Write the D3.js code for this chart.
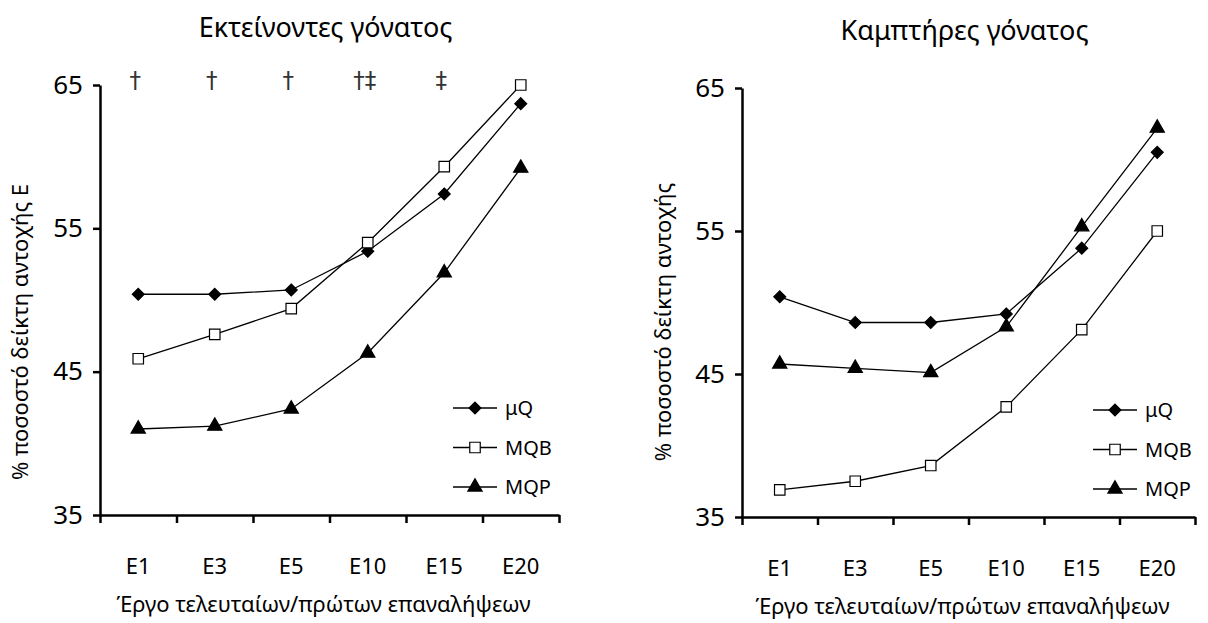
<!DOCTYPE html>
<html>
<head>
<meta charset="utf-8">
<script src="https://cdn.jsdelivr.net/npm/d3@7"></script>
<style>
  body { margin: 0; background: #fff; }
  svg { font-family: "Noto Sans", "Open Sans", sans-serif; }
</style>
</head>
<body>
<svg id="svg" width="1208" height="623"></svg>
<script>
const categories = ["E1", "E3", "E5", "E10", "E15", "E20"];
const yTicks = [35, 45, 55, 65];
const seriesNames = ["μQ", "MQB", "MQP"];

// Εκτείνοντες (left)
const extMuQ = [50.4, 50.4, 50.7, 53.4, 57.4, 63.7];
const extMQB = [45.9, 47.6, 49.4, 54.0, 59.3, 65.0];
const extMQP = [41.0, 41.2, 42.4, 46.3, 51.9, 59.2];
const extMarks = ["†", "†", "†", "†‡", "‡", ""];

// Καμπτήρες (right)
const flxMuQ = [50.4, 48.6, 48.6, 49.2, 53.8, 60.5];
const flxMQB = [36.9, 37.5, 38.6, 42.7, 48.1, 55.0];
const flxMQP = [45.7, 45.4, 45.1, 48.3, 55.3, 62.2];

const svg = d3.select("#svg");

const symbols = {
  "μQ": { type: d3.symbolDiamond2, size: 90, fill: "#000" },
  "MQB": { type: d3.symbolSquare, size: 110, fill: "#fff" },
  "MQP": { type: d3.symbolTriangle, size: 88, fill: "#000" }
};

function drawPanel(p) {
  const g = svg.append("g").attr("transform", `translate(${p.left},${p.top})`);
  const w = p.width, h = p.height;

  const x = d3.scaleBand().domain(categories).range([0, w]);
  const xt = d3.scaleLinear().domain([0, categories.length]).range([0, w]);
  const y = d3.scaleLinear().domain([35, 65]).range([h, 0]);

  // y axis
  const ya = g.append("g").call(d3.axisLeft(y).tickValues(yTicks).tickSize(7).tickSizeOuter(0));
  ya.select(".domain").attr("stroke-width", 2.5);
  ya.selectAll(".tick line").attr("stroke-width", 2.5);
  ya.selectAll(".tick text").attr("x", -17).style("font-size", "26px").style("font-family", "Noto Sans");

  // x axis ticks at band edges
  const xa = g.append("g").attr("transform", `translate(0,${h})`)
    .call(d3.axisBottom(xt).tickValues(d3.range(categories.length + 1)).tickSize(8).tickSizeOuter(0).tickFormat(""));
  xa.select(".domain").attr("stroke-width", 2.5);
  xa.selectAll(".tick line").attr("stroke-width", 2.5);

  // category labels
  const xl = g.append("g").attr("transform", `translate(0,${h})`)
    .call(d3.axisBottom(x).tickSize(0).tickPadding(43));
  xl.select(".domain").remove();
  xl.selectAll(".tick text").style("font-size", "22px").style("font-family", "Noto Sans");

  // series
  const line = d3.line().x((d, i) => x(categories[i]) + x.bandwidth() / 2).y((d) => y(d));
  p.series.forEach((vals, k) => {
    const name = seriesNames[k];
    g.append("path").datum(vals).attr("d", line)
      .attr("fill", "none").attr("stroke", "#000").attr("stroke-width", 1.3);
    g.selectAll(null).data(vals).enter().append("path")
      .attr("transform", (d, i) => `translate(${x(categories[i]) + x.bandwidth() / 2},${y(d)})`)
      .attr("d", d3.symbol().type(symbols[name].type).size(symbols[name].size))
      .attr("fill", symbols[name].fill).attr("stroke", "#000").attr("stroke-width", 1.2);
  });

  // significance marks
  if (p.marks) {
    g.selectAll("text.mark").data(p.marks).enter().append("text")
      .attr("class", "mark")
      .attr("x", (d, i) => x(categories[i]) + x.bandwidth() / 2 - 3)
      .attr("y", 3)
      .attr("text-anchor", "middle")
      .attr("fill", "#333")
      .style("font-size", "23px")
      .style("font-family", "DejaVu Sans")
      .text((d) => d);
  }

  // legend
  const lg = g.append("g").attr("transform", `translate(${p.legendX},${p.legendY})`);
  seriesNames.forEach((name, k) => {
    const row = lg.append("g").attr("transform", `translate(0,${k * 39.5})`);
    row.append("line").attr("x1", 0).attr("x2", 44).attr("stroke", "#000").attr("stroke-width", 1.3);
    row.append("path").attr("transform", "translate(22,0)")
      .attr("d", d3.symbol().type(symbols[name].type).size(symbols[name].size))
      .attr("fill", symbols[name].fill).attr("stroke", "#000").attr("stroke-width", 1.2);
    row.append("text").attr("x", 52).attr("dy", "0.35em").style("font-size", "20px").text(name);
  });

  // titles
  g.append("text").attr("x", w / 2 - 4).attr("y", p.titleY).attr("text-anchor", "middle")
    .style("font-size", "27px").text(p.title);
  g.append("text").attr("x", w / 2 - 6).attr("y", h + 97).attr("text-anchor", "middle")
    .style("font-size", "22px").text("Έργο τελευταίων/πρώτων επαναλήψεων");
  g.append("text").attr("transform", `translate(${p.yLabelX},${p.yLabelY}) rotate(-90)`)
    .attr("text-anchor", "middle").attr("dy", "0.35em").style("font-size", "22px").text(p.yLabel);
}

drawPanel({
  left: 100, top: 85, width: 459, height: 430,
  series: [extMuQ, extMQB, extMQP], marks: extMarks,
  title: "Εκτείνοντες γόνατος", titleY: -48,
  yLabel: "% ποσοστό δείκτη αντοχής E", yLabelX: -80, yLabelY: 247,
  legendX: 353, legendY: 323
});

drawPanel({
  left: 742, top: 88, width: 453, height: 429,
  series: [flxMuQ, flxMQB, flxMQP],
  title: "Καμπτήρες γόνατος", titleY: -48,
  yLabel: "% ποσοστό δείκτη αντοχής", yLabelX: -79, yLabelY: 234,
  legendX: 351, legendY: 322
});
</script>
</body>
</html>
